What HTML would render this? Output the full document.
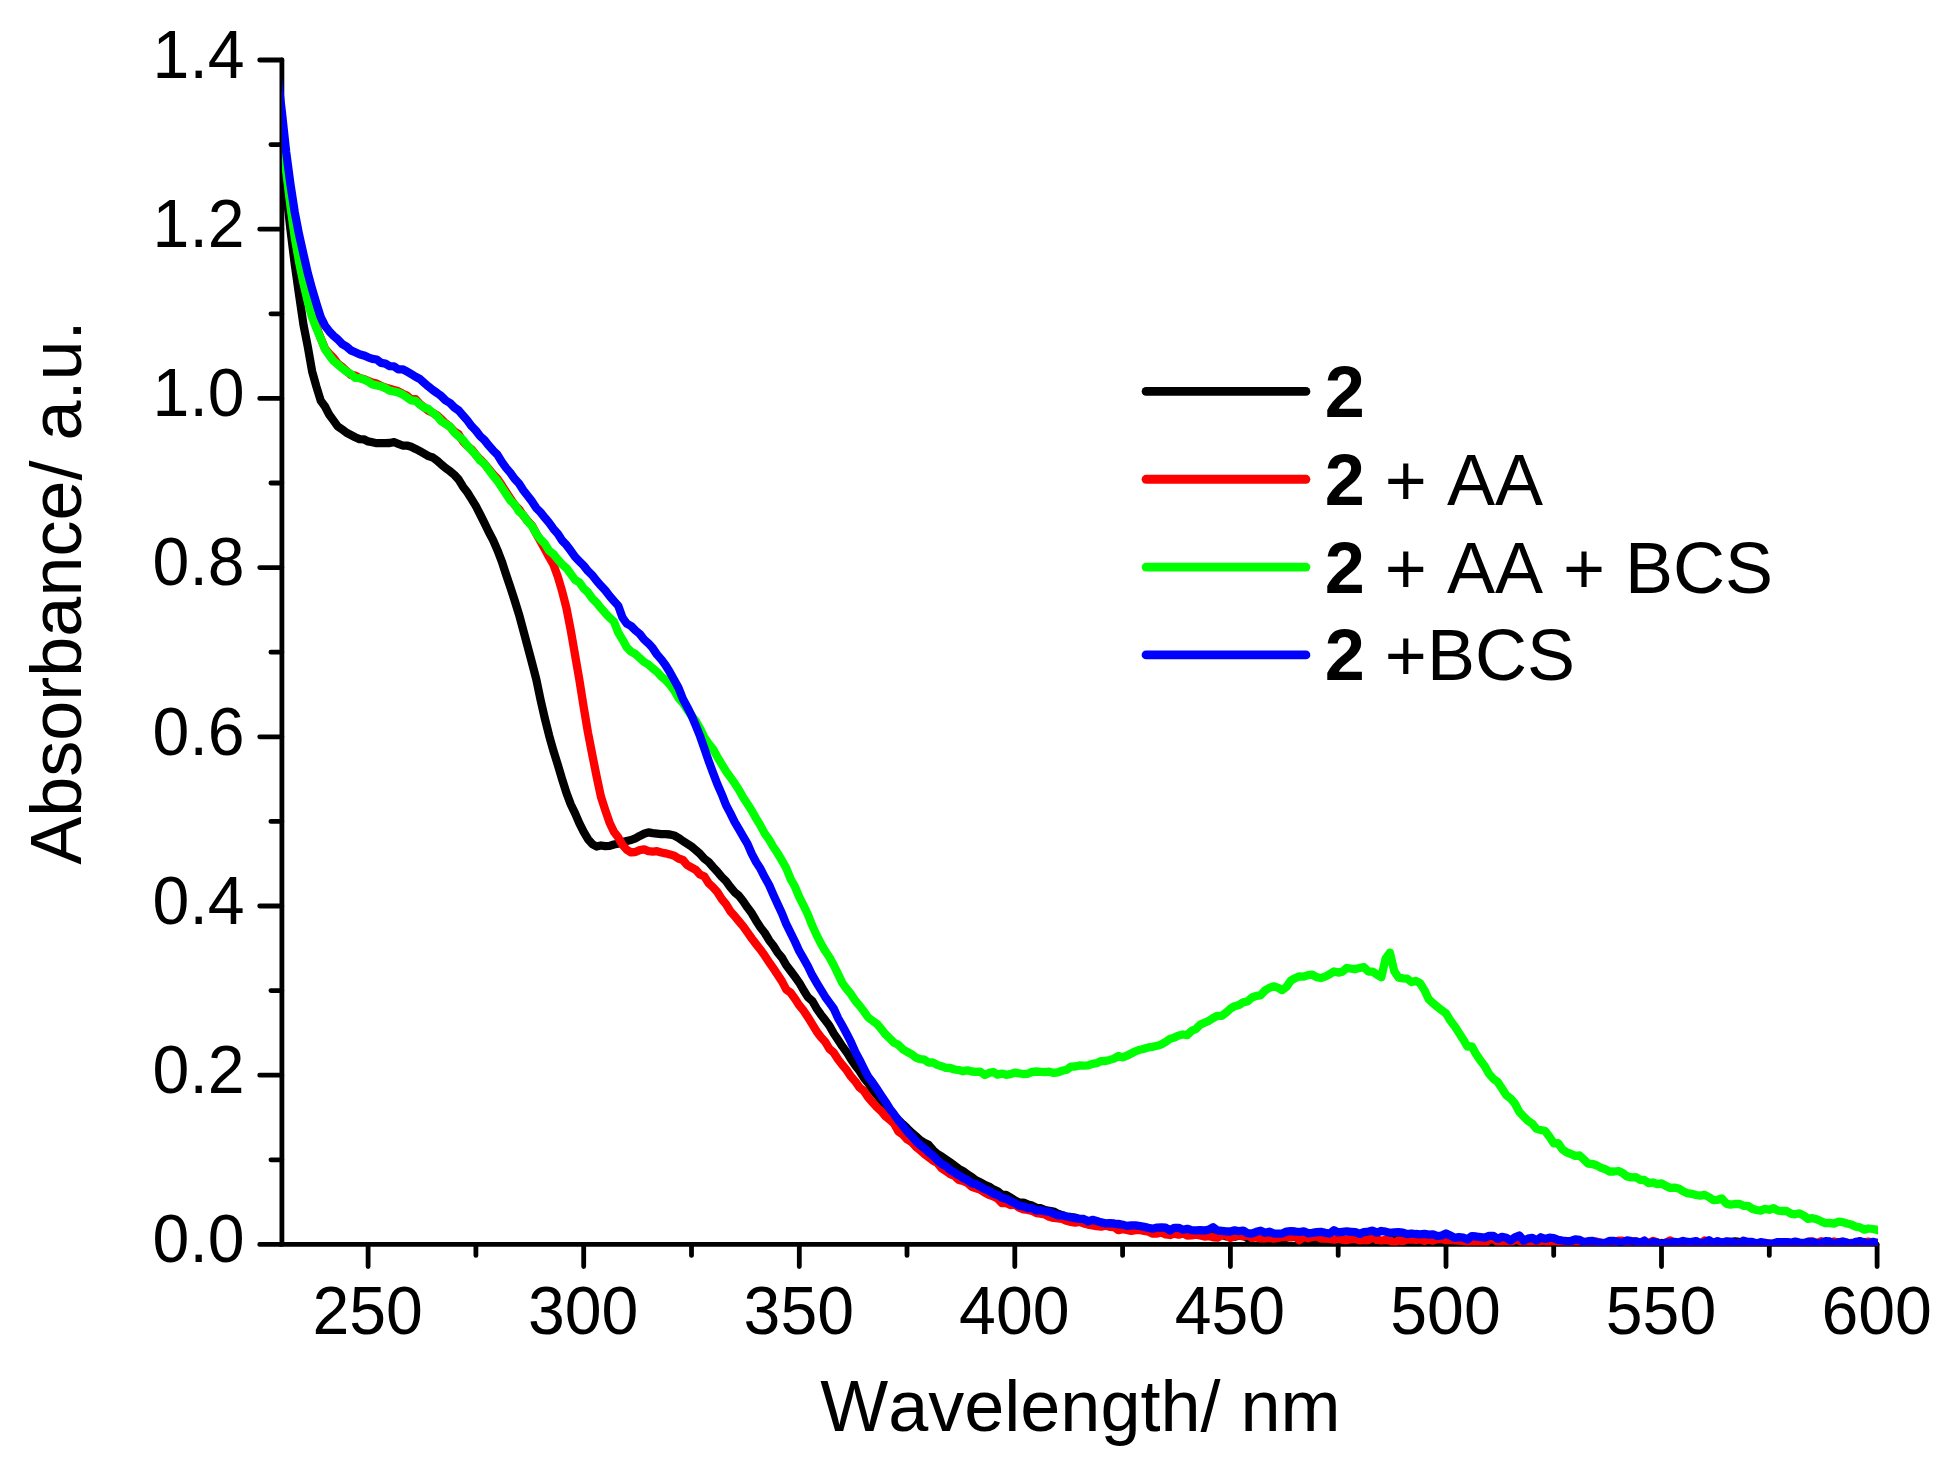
<!DOCTYPE html>
<html lang="en"><head><meta charset="utf-8"><title>UV/Vis absorbance spectra</title>
<style>html,body{margin:0;padding:0;background:#fff}body{width:1947px;height:1464px;overflow:hidden}svg{display:block}text{font-family:"Liberation Sans",Arial,Helvetica,sans-serif;fill:#000;font-kerning:none;font-variant-ligatures:none}.tk{font-size:66.2px}.ti{font-size:72px}.lg{font-size:72px}.b{font-weight:bold}.ax{stroke:#000;stroke-width:4.8;stroke-linecap:round;fill:none}.cv{fill:none;stroke-width:8.3;stroke-linejoin:round;stroke-linecap:butt}.ll{fill:none;stroke-width:8.9;stroke-linecap:round}</style></head><body>
<svg width="1947" height="1464" viewBox="0 0 1947 1464">
<rect width="1947" height="1464" fill="#fff"/>
<defs><clipPath id="plot"><rect x="281.9" y="54.0" width="1596.1" height="1191.4"/></clipPath></defs>
<g class="ax">
<path d="M281.9 60.0L281.9 1244.4L1877.1 1244.4"/>
<path d="M281.9 1244.4H259.7M281.9 1075.2H259.7M281.9 906.0H259.7M281.9 736.8H259.7M281.9 567.6H259.7M281.9 398.4H259.7M281.9 229.2H259.7M281.9 60.0H259.7M281.9 1159.8H270.9M281.9 990.6H270.9M281.9 821.4H270.9M281.9 652.2H270.9M281.9 483.0H270.9M281.9 313.8H270.9M281.9 144.6H270.9M368.1 1244.4V1266.6M583.7 1244.4V1266.6M799.3 1244.4V1266.6M1014.8 1244.4V1266.6M1230.4 1244.4V1266.6M1446.0 1244.4V1266.6M1661.5 1244.4V1266.6M1877.1 1244.4V1266.6M475.9 1244.4V1255.4M691.5 1244.4V1255.4M907.0 1244.4V1255.4M1122.6 1244.4V1255.4M1338.2 1244.4V1255.4M1553.7 1244.4V1255.4M1769.3 1244.4V1255.4"/>
</g>
<g class="tk" text-anchor="end">
<text transform="translate(244.6 1262.1) scale(1 1.035)">0.0</text>
<text transform="translate(244.6 1092.9) scale(1 1.035)">0.2</text>
<text transform="translate(244.6 923.7) scale(1 1.035)">0.4</text>
<text transform="translate(244.6 754.5) scale(1 1.035)">0.6</text>
<text transform="translate(244.6 585.3) scale(1 1.035)">0.8</text>
<text transform="translate(244.6 416.1) scale(1 1.035)">1.0</text>
<text transform="translate(244.6 246.9) scale(1 1.035)">1.2</text>
<text transform="translate(244.6 77.7) scale(1 1.035)">1.4</text>
</g>
<g class="tk" text-anchor="middle">
<text transform="translate(367.6 1334.4) scale(1 1.035)">250</text>
<text transform="translate(583.2 1334.4) scale(1 1.035)">300</text>
<text transform="translate(798.8 1334.4) scale(1 1.035)">350</text>
<text transform="translate(1014.3 1334.4) scale(1 1.035)">400</text>
<text transform="translate(1229.9 1334.4) scale(1 1.035)">450</text>
<text transform="translate(1445.5 1334.4) scale(1 1.035)">500</text>
<text transform="translate(1661.0 1334.4) scale(1 1.035)">550</text>
<text transform="translate(1876.6 1334.4) scale(1 1.035)">600</text>
</g>
<text class="ti" text-anchor="middle" x="1080.4" y="1430.7">Wavelength/ nm</text>
<text class="ti" text-anchor="middle" transform="translate(80.7 592.6) rotate(-90)">Absorbance/ a.u.</text>
<g clip-path="url(#plot)">
<path class="cv" stroke="#000000" d="M277.6 116.0L281.9 151.4L286.2 191.4L290.5 229.8L294.8 264.6L299.1 294.9L303.5 325.0L307.8 346.8L312.1 371.3L316.4 386.6L320.7 400.6L325.0 406.5L329.3 414.8L333.6 420.6L337.9 426.6L342.3 429.4L346.6 432.8L350.9 435.0L355.2 437.2L359.5 439.1L363.8 439.3L368.1 441.4L372.4 442.3L376.7 443.2L381.1 443.1L385.4 443.1L389.7 443.0L394.0 442.2L398.3 443.8L402.6 445.5L406.9 445.6L411.2 446.8L415.6 448.9L419.9 451.2L424.2 453.6L428.5 456.1L432.8 457.5L437.1 460.6L441.4 464.5L445.7 468.1L450.0 471.2L454.4 474.9L458.7 479.6L463.0 486.7L467.3 492.3L471.6 499.1L475.9 506.2L480.2 514.5L484.5 523.1L488.8 532.0L493.2 540.4L497.5 550.3L501.8 561.4L506.1 574.6L510.4 587.3L514.7 600.6L519.0 614.4L523.3 630.3L527.6 646.4L532.0 662.9L536.3 679.4L540.6 700.0L544.9 718.7L549.2 735.8L553.5 751.1L557.8 764.7L562.1 779.2L566.4 792.8L570.8 804.5L575.1 813.4L579.4 823.3L583.7 831.9L588.0 839.2L592.3 844.1L596.6 846.5L600.9 845.5L605.3 846.2L609.6 845.9L613.9 844.5L618.2 843.7L622.5 842.1L626.8 841.0L631.1 840.0L635.4 838.3L639.7 835.9L644.1 833.8L648.4 832.4L652.7 833.2L657.0 833.7L661.3 834.2L665.6 834.2L669.9 834.5L674.2 835.5L678.5 837.8L682.9 841.0L687.2 843.7L691.5 846.5L695.8 850.1L700.1 853.9L704.4 858.7L708.7 862.0L713.0 867.0L717.3 871.6L721.7 876.9L726.0 881.1L730.3 887.0L734.6 892.2L738.9 895.7L743.2 901.2L747.5 907.6L751.8 913.3L756.1 920.7L760.5 927.5L764.8 933.0L769.1 940.2L773.4 945.7L777.7 952.6L782.0 957.7L786.3 965.3L790.6 970.9L795.0 976.8L799.3 982.8L803.6 990.3L807.9 997.1L812.2 1000.8L816.5 1008.3L820.8 1014.4L825.1 1020.1L829.4 1025.7L833.8 1033.5L838.1 1039.8L842.4 1046.4L846.7 1052.2L851.0 1059.2L855.3 1065.5L859.6 1071.0L863.9 1077.8L868.2 1083.1L872.6 1089.9L876.9 1095.0L881.2 1100.4L885.5 1105.8L889.8 1111.0L894.1 1115.5L898.4 1119.9L902.7 1124.1L907.0 1128.1L911.4 1132.4L915.7 1136.1L920.0 1140.1L924.3 1142.8L928.6 1144.8L932.9 1150.0L937.2 1153.9L941.5 1156.3L945.8 1159.3L950.2 1162.4L954.5 1165.6L958.8 1168.9L963.1 1171.2L967.4 1174.4L971.7 1177.0L976.0 1180.4L980.3 1182.3L984.7 1184.9L989.0 1186.6L993.3 1189.4L997.6 1191.3L1001.9 1194.8L1006.2 1194.9L1010.5 1197.6L1014.8 1200.2L1019.1 1202.7L1023.5 1202.7L1027.8 1204.4L1032.1 1205.6L1036.4 1207.8L1040.7 1208.2L1045.0 1210.1L1049.3 1210.8L1053.6 1211.5L1057.9 1213.8L1062.3 1215.2L1066.6 1217.0L1070.9 1217.0L1075.2 1217.6L1079.5 1219.3L1083.8 1220.0L1088.1 1220.8L1092.4 1221.3L1096.7 1222.7L1101.1 1222.8L1105.4 1224.5L1109.7 1224.6L1114.0 1224.9L1118.3 1223.8L1122.6 1226.0L1126.9 1226.4L1131.2 1227.1L1135.5 1227.7L1139.9 1227.1L1144.2 1228.5L1148.5 1227.9L1152.8 1230.2L1157.1 1228.2L1161.4 1228.3L1165.7 1228.8L1170.0 1229.8L1174.3 1230.0L1178.7 1232.8L1183.0 1231.5L1187.3 1231.1L1191.6 1233.4L1195.9 1232.5L1200.2 1232.3L1204.5 1234.3L1208.8 1234.5L1213.2 1234.0L1217.5 1235.8L1221.8 1234.8L1226.1 1236.3L1230.4 1235.6L1234.7 1236.8L1239.0 1235.8L1243.3 1234.9L1247.6 1238.3L1252.0 1236.0L1256.3 1236.6L1260.6 1236.4L1264.9 1237.0L1269.2 1237.5L1273.5 1237.6L1277.8 1238.2L1282.1 1239.3L1286.4 1237.7L1290.8 1236.8L1295.1 1237.0L1299.4 1237.6L1303.7 1236.8L1308.0 1239.3L1312.3 1238.1L1316.6 1238.4L1320.9 1238.9L1325.2 1237.7L1329.6 1238.3L1333.9 1239.9L1338.2 1240.0L1342.5 1239.1L1346.8 1241.4L1351.1 1238.4L1355.4 1239.4L1359.7 1239.6L1364.0 1237.1L1368.4 1241.9L1372.7 1240.4L1377.0 1239.1L1381.3 1242.3L1385.6 1240.9L1389.9 1240.8L1394.2 1239.8L1398.5 1240.6L1402.9 1239.0L1407.2 1241.5L1411.5 1240.4L1415.8 1241.0L1420.1 1242.2L1424.4 1241.3L1428.7 1241.3L1433.0 1241.4L1437.3 1240.4L1441.7 1242.1L1446.0 1242.9L1450.3 1242.2L1454.6 1242.4L1458.9 1240.6L1463.2 1240.7L1467.5 1240.1L1471.8 1243.0L1476.1 1241.5L1480.5 1243.3L1484.8 1241.1L1489.1 1241.5L1493.4 1242.1L1497.7 1243.0L1502.0 1242.2L1506.3 1242.4L1510.6 1242.3L1514.9 1242.5L1519.3 1241.2L1523.6 1242.5L1527.9 1242.3L1532.2 1242.5L1536.5 1243.1L1540.8 1241.9L1545.1 1242.6L1549.4 1242.4L1553.7 1243.2L1558.1 1243.6L1562.4 1241.9L1566.7 1243.5L1571.0 1245.1L1575.3 1241.5L1579.6 1242.2L1583.9 1242.3L1588.2 1243.0L1592.6 1245.1L1596.9 1243.5L1601.2 1242.9L1605.5 1244.3L1609.8 1243.0L1614.1 1244.8L1618.4 1244.0L1622.7 1245.1L1627.0 1243.0L1631.4 1246.9L1635.7 1244.6L1640.0 1244.4L1644.3 1243.7L1648.6 1243.0L1652.9 1242.9L1657.2 1243.7L1661.5 1243.0L1665.8 1244.2L1670.2 1243.0L1674.5 1244.5L1678.8 1244.9L1683.1 1243.2L1687.4 1245.2L1691.7 1243.7L1696.0 1245.2L1700.3 1244.5L1704.6 1245.2L1709.0 1243.0L1713.3 1243.9L1717.6 1245.5L1721.9 1243.4L1726.2 1241.9L1730.5 1242.0L1734.8 1241.4L1739.1 1241.8L1743.4 1243.6L1747.8 1245.3L1752.1 1243.5L1756.4 1244.3L1760.7 1243.9L1765.0 1244.0L1769.3 1243.8L1773.6 1243.8L1777.9 1244.5L1782.3 1242.8L1786.6 1245.1L1790.9 1245.0L1795.2 1243.8L1799.5 1244.8L1803.8 1243.3L1808.1 1243.5L1812.4 1244.2L1816.7 1243.8L1821.1 1243.6L1825.4 1243.4L1829.7 1243.5L1834.0 1245.1L1838.3 1242.1L1842.6 1244.5L1846.9 1243.9L1851.2 1244.9L1855.5 1244.7L1859.9 1241.2L1864.2 1244.8L1868.5 1244.5L1872.8 1244.2L1877.1 1243.7L1881.4 1245.1"/>
<path class="cv" stroke="#ff0000" d="M277.6 87.0L281.9 125.4L286.2 166.3L290.5 205.3L294.8 234.2L299.1 259.4L303.5 281.6L307.8 299.5L312.1 315.0L316.4 326.6L320.7 338.2L325.0 348.6L329.3 353.6L333.6 357.9L337.9 363.7L342.3 367.1L346.6 371.0L350.9 374.9L355.2 375.7L359.5 378.0L363.8 379.0L368.1 380.8L372.4 382.6L376.7 383.6L381.1 386.0L385.4 387.6L389.7 388.8L394.0 390.0L398.3 391.3L402.6 393.7L406.9 395.6L411.2 399.4L415.6 399.2L419.9 404.1L424.2 407.4L428.5 410.7L432.8 412.8L437.1 415.3L441.4 419.3L445.7 423.4L450.0 426.7L454.4 431.5L458.7 434.3L463.0 441.3L467.3 445.9L471.6 449.4L475.9 454.9L480.2 459.5L484.5 463.8L488.8 469.2L493.2 474.5L497.5 478.9L501.8 485.2L506.1 491.9L510.4 498.5L514.7 504.9L519.0 509.2L523.3 515.5L527.6 520.9L532.0 525.5L536.3 533.7L540.6 541.5L544.9 549.2L549.2 557.3L553.5 564.8L557.8 576.6L562.1 591.2L566.4 607.9L570.8 630.5L575.1 655.2L579.4 680.1L583.7 707.2L588.0 732.8L592.3 754.9L596.6 776.4L600.9 796.6L605.3 810.2L609.6 822.7L613.9 831.8L618.2 837.4L622.5 845.0L626.8 849.7L631.1 852.4L635.4 852.0L639.7 850.1L644.1 849.4L648.4 851.2L652.7 851.6L657.0 851.2L661.3 852.5L665.6 853.3L669.9 854.4L674.2 855.7L678.5 858.5L682.9 860.0L687.2 865.2L691.5 867.5L695.8 869.9L700.1 874.6L704.4 876.6L708.7 883.2L713.0 887.2L717.3 892.0L721.7 899.0L726.0 904.1L730.3 911.2L734.6 916.1L738.9 921.2L743.2 926.4L747.5 932.4L751.8 938.5L756.1 944.1L760.5 949.7L764.8 955.7L769.1 962.2L773.4 968.4L777.7 974.9L782.0 981.4L786.3 989.6L790.6 992.7L795.0 998.7L799.3 1005.4L803.6 1010.7L807.9 1017.1L812.2 1024.1L816.5 1031.2L820.8 1037.0L825.1 1041.7L829.4 1048.8L833.8 1052.7L838.1 1059.5L842.4 1065.0L846.7 1070.1L851.0 1076.6L855.3 1081.4L859.6 1087.5L863.9 1090.9L868.2 1097.5L872.6 1102.4L876.9 1107.2L881.2 1111.1L885.5 1116.3L889.8 1119.8L894.1 1123.8L898.4 1131.6L902.7 1134.4L907.0 1139.2L911.4 1141.9L915.7 1146.5L920.0 1150.2L924.3 1153.9L928.6 1157.2L932.9 1160.6L937.2 1162.9L941.5 1168.1L945.8 1171.0L950.2 1174.2L954.5 1176.0L958.8 1179.9L963.1 1181.0L967.4 1182.9L971.7 1186.8L976.0 1188.2L980.3 1189.7L984.7 1192.5L989.0 1194.8L993.3 1196.4L997.6 1198.7L1001.9 1203.2L1006.2 1203.0L1010.5 1205.1L1014.8 1204.4L1019.1 1207.6L1023.5 1209.4L1027.8 1209.9L1032.1 1210.9L1036.4 1213.1L1040.7 1213.7L1045.0 1214.5L1049.3 1216.7L1053.6 1217.9L1057.9 1218.3L1062.3 1219.0L1066.6 1220.8L1070.9 1221.9L1075.2 1222.6L1079.5 1221.8L1083.8 1223.4L1088.1 1224.6L1092.4 1225.4L1096.7 1226.2L1101.1 1226.7L1105.4 1225.8L1109.7 1226.8L1114.0 1227.0L1118.3 1230.1L1122.6 1229.2L1126.9 1230.0L1131.2 1230.9L1135.5 1230.2L1139.9 1229.9L1144.2 1231.0L1148.5 1231.7L1152.8 1233.6L1157.1 1233.6L1161.4 1232.4L1165.7 1234.4L1170.0 1235.0L1174.3 1233.6L1178.7 1234.7L1183.0 1233.4L1187.3 1235.7L1191.6 1235.3L1195.9 1234.6L1200.2 1235.5L1204.5 1236.6L1208.8 1236.1L1213.2 1237.3L1217.5 1237.7L1221.8 1234.9L1226.1 1235.4L1230.4 1238.0L1234.7 1236.2L1239.0 1235.4L1243.3 1236.5L1247.6 1235.3L1252.0 1238.0L1256.3 1237.4L1260.6 1238.4L1264.9 1238.3L1269.2 1237.9L1273.5 1238.6L1277.8 1237.9L1282.1 1237.1L1286.4 1236.8L1290.8 1237.5L1295.1 1235.4L1299.4 1240.2L1303.7 1236.5L1308.0 1238.4L1312.3 1237.1L1316.6 1236.4L1320.9 1238.7L1325.2 1238.5L1329.6 1238.8L1333.9 1239.7L1338.2 1238.5L1342.5 1239.8L1346.8 1240.0L1351.1 1239.1L1355.4 1239.2L1359.7 1240.3L1364.0 1239.8L1368.4 1240.0L1372.7 1237.0L1377.0 1240.0L1381.3 1240.5L1385.6 1239.9L1389.9 1240.6L1394.2 1242.6L1398.5 1240.4L1402.9 1241.2L1407.2 1239.4L1411.5 1239.5L1415.8 1240.0L1420.1 1239.4L1424.4 1240.8L1428.7 1239.7L1433.0 1240.7L1437.3 1239.2L1441.7 1239.0L1446.0 1240.2L1450.3 1239.8L1454.6 1240.4L1458.9 1240.5L1463.2 1240.8L1467.5 1242.6L1471.8 1243.1L1476.1 1242.3L1480.5 1241.0L1484.8 1243.4L1489.1 1239.7L1493.4 1239.1L1497.7 1242.0L1502.0 1241.7L1506.3 1241.6L1510.6 1241.9L1514.9 1239.9L1519.3 1240.5L1523.6 1243.5L1527.9 1243.3L1532.2 1241.2L1536.5 1244.5L1540.8 1240.9L1545.1 1241.5L1549.4 1242.7L1553.7 1240.9L1558.1 1241.8L1562.4 1242.2L1566.7 1242.0L1571.0 1243.6L1575.3 1243.3L1579.6 1241.3L1583.9 1241.8L1588.2 1242.9L1592.6 1242.5L1596.9 1241.6L1601.2 1243.1L1605.5 1243.6L1609.8 1241.8L1614.1 1243.6L1618.4 1240.6L1622.7 1240.7L1627.0 1243.3L1631.4 1241.6L1635.7 1241.4L1640.0 1242.4L1644.3 1241.9L1648.6 1243.1L1652.9 1240.9L1657.2 1242.3L1661.5 1246.6L1665.8 1242.9L1670.2 1240.4L1674.5 1243.5L1678.8 1243.4L1683.1 1244.5L1687.4 1243.0L1691.7 1242.0L1696.0 1244.5L1700.3 1243.7L1704.6 1240.6L1709.0 1243.7L1713.3 1242.5L1717.6 1244.2L1721.9 1242.4L1726.2 1243.8L1730.5 1243.1L1734.8 1243.6L1739.1 1242.9L1743.4 1242.4L1747.8 1243.0L1752.1 1243.7L1756.4 1243.4L1760.7 1244.9L1765.0 1243.5L1769.3 1243.7L1773.6 1245.5L1777.9 1243.0L1782.3 1243.6L1786.6 1242.2L1790.9 1243.0L1795.2 1245.0L1799.5 1243.4L1803.8 1244.8L1808.1 1241.7L1812.4 1241.3L1816.7 1243.4L1821.1 1241.3L1825.4 1246.3L1829.7 1244.5L1834.0 1241.5L1838.3 1242.8L1842.6 1242.3L1846.9 1243.5L1851.2 1242.9L1855.5 1244.2L1859.9 1244.8L1864.2 1242.7L1868.5 1241.6L1872.8 1243.7L1877.1 1242.8L1881.4 1244.4"/>
<path class="cv" stroke="#00ff00" d="M277.6 92.4L281.9 129.7L286.2 171.4L290.5 206.1L294.8 237.8L299.1 262.1L303.5 283.4L307.8 301.9L312.1 317.3L316.4 328.4L320.7 338.3L325.0 349.2L329.3 355.4L333.6 361.1L337.9 364.5L342.3 368.3L346.6 371.6L350.9 374.0L355.2 377.9L359.5 378.1L363.8 379.5L368.1 381.6L372.4 384.4L376.7 385.4L381.1 386.3L385.4 388.1L389.7 390.6L394.0 391.5L398.3 392.6L402.6 394.6L406.9 397.3L411.2 400.4L415.6 400.9L419.9 404.6L424.2 407.5L428.5 409.0L432.8 412.8L437.1 416.1L441.4 421.2L445.7 424.0L450.0 426.8L454.4 432.6L458.7 436.4L463.0 440.0L467.3 445.6L471.6 450.3L475.9 455.0L480.2 460.6L484.5 463.8L488.8 470.0L493.2 475.8L497.5 481.0L501.8 487.5L506.1 494.0L510.4 500.6L514.7 504.4L519.0 511.5L523.3 515.0L527.6 521.5L532.0 526.1L536.3 533.8L540.6 539.5L544.9 543.8L549.2 550.8L553.5 554.1L557.8 559.5L562.1 564.3L566.4 568.1L570.8 574.0L575.1 579.9L579.4 582.3L583.7 588.5L588.0 592.4L592.3 598.5L596.6 602.7L600.9 608.1L605.3 613.1L609.6 617.7L613.9 621.5L618.2 632.5L622.5 639.6L626.8 647.4L631.1 651.7L635.4 654.0L639.7 658.0L644.1 662.0L648.4 664.5L652.7 668.4L657.0 671.7L661.3 676.5L665.6 679.9L669.9 684.8L674.2 690.5L678.5 698.0L682.9 703.0L687.2 709.3L691.5 715.9L695.8 721.0L700.1 728.5L704.4 737.5L708.7 743.7L713.0 749.0L717.3 756.8L721.7 764.1L726.0 771.2L730.3 777.1L734.6 783.2L738.9 789.7L743.2 797.5L747.5 804.1L751.8 810.8L756.1 818.4L760.5 825.6L764.8 833.6L769.1 839.7L773.4 847.0L777.7 853.3L782.0 860.7L786.3 868.3L790.6 878.9L795.0 886.8L799.3 897.1L803.6 905.7L807.9 914.5L812.2 925.4L816.5 934.9L820.8 943.4L825.1 950.8L829.4 957.2L833.8 965.3L838.1 974.1L842.4 983.1L846.7 989.0L851.0 994.2L855.3 1000.8L859.6 1005.8L863.9 1011.3L868.2 1017.5L872.6 1020.8L876.9 1023.8L881.2 1028.9L885.5 1034.3L889.8 1038.5L894.1 1042.8L898.4 1044.8L902.7 1049.2L907.0 1051.8L911.4 1054.1L915.7 1057.5L920.0 1059.1L924.3 1059.7L928.6 1062.7L932.9 1062.5L937.2 1064.9L941.5 1066.2L945.8 1067.8L950.2 1068.0L954.5 1069.5L958.8 1070.1L963.1 1071.3L967.4 1070.3L971.7 1071.5L976.0 1071.9L980.3 1071.7L984.7 1075.0L989.0 1072.9L993.3 1072.0L997.6 1074.7L1001.9 1073.6L1006.2 1074.8L1010.5 1074.1L1014.8 1072.6L1019.1 1073.4L1023.5 1074.0L1027.8 1073.8L1032.1 1071.9L1036.4 1071.5L1040.7 1071.8L1045.0 1072.2L1049.3 1071.7L1053.6 1072.9L1057.9 1072.3L1062.3 1070.8L1066.6 1069.8L1070.9 1066.7L1075.2 1066.5L1079.5 1065.5L1083.8 1065.7L1088.1 1065.4L1092.4 1063.8L1096.7 1063.2L1101.1 1061.1L1105.4 1061.0L1109.7 1059.9L1114.0 1058.6L1118.3 1056.0L1122.6 1057.4L1126.9 1055.7L1131.2 1053.5L1135.5 1051.3L1139.9 1049.7L1144.2 1048.8L1148.5 1047.4L1152.8 1046.8L1157.1 1045.8L1161.4 1044.3L1165.7 1041.9L1170.0 1038.9L1174.3 1037.6L1178.7 1035.5L1183.0 1034.5L1187.3 1035.2L1191.6 1030.8L1195.9 1029.0L1200.2 1024.6L1204.5 1022.7L1208.8 1020.9L1213.2 1018.0L1217.5 1015.8L1221.8 1015.8L1226.1 1012.6L1230.4 1008.7L1234.7 1006.2L1239.0 1005.1L1243.3 1002.3L1247.6 1001.4L1252.0 997.5L1256.3 995.9L1260.6 995.3L1264.9 990.6L1269.2 987.9L1273.5 986.3L1277.8 987.6L1282.1 990.1L1286.4 987.0L1290.8 980.7L1295.1 978.2L1299.4 976.3L1303.7 976.6L1308.0 975.1L1312.3 974.6L1316.6 977.1L1320.9 978.0L1325.2 976.6L1329.6 974.3L1333.9 971.5L1338.2 972.6L1342.5 971.6L1346.8 968.0L1351.1 968.6L1355.4 969.0L1359.7 967.9L1364.0 967.2L1368.4 971.5L1372.7 971.6L1377.0 974.7L1381.3 977.3L1385.6 958.6L1389.9 952.6L1394.2 970.9L1398.5 977.6L1402.9 978.3L1407.2 978.6L1411.5 982.1L1415.8 980.9L1420.1 983.2L1424.4 990.1L1428.7 999.2L1433.0 1003.2L1437.3 1006.7L1441.7 1010.2L1446.0 1013.3L1450.3 1020.5L1454.6 1026.1L1458.9 1032.7L1463.2 1039.4L1467.5 1046.6L1471.8 1046.3L1476.1 1054.2L1480.5 1060.6L1484.8 1066.2L1489.1 1073.9L1493.4 1078.9L1497.7 1081.9L1502.0 1088.6L1506.3 1095.2L1510.6 1098.6L1514.9 1103.5L1519.3 1111.9L1523.6 1116.5L1527.9 1120.7L1532.2 1123.6L1536.5 1128.8L1540.8 1130.0L1545.1 1131.0L1549.4 1136.6L1553.7 1143.3L1558.1 1143.2L1562.4 1149.3L1566.7 1152.4L1571.0 1154.0L1575.3 1155.9L1579.6 1155.5L1583.9 1159.5L1588.2 1163.7L1592.6 1164.0L1596.9 1165.5L1601.2 1167.9L1605.5 1169.3L1609.8 1171.7L1614.1 1171.5L1618.4 1171.0L1622.7 1173.1L1627.0 1176.4L1631.4 1177.4L1635.7 1177.1L1640.0 1179.8L1644.3 1180.0L1648.6 1183.2L1652.9 1182.5L1657.2 1184.1L1661.5 1183.4L1665.8 1185.9L1670.2 1187.9L1674.5 1187.7L1678.8 1188.5L1683.1 1191.2L1687.4 1193.2L1691.7 1193.8L1696.0 1195.0L1700.3 1195.6L1704.6 1194.9L1709.0 1197.1L1713.3 1200.2L1717.6 1199.8L1721.9 1198.5L1726.2 1203.6L1730.5 1204.6L1734.8 1204.0L1739.1 1203.8L1743.4 1205.8L1747.8 1205.8L1752.1 1208.7L1756.4 1210.0L1760.7 1210.7L1765.0 1208.9L1769.3 1209.8L1773.6 1208.2L1777.9 1210.6L1782.3 1211.0L1786.6 1211.0L1790.9 1213.6L1795.2 1214.3L1799.5 1213.3L1803.8 1215.6L1808.1 1218.9L1812.4 1218.2L1816.7 1219.3L1821.1 1221.3L1825.4 1223.1L1829.7 1222.9L1834.0 1223.6L1838.3 1221.7L1842.6 1222.1L1846.9 1223.5L1851.2 1224.5L1855.5 1226.6L1859.9 1227.3L1864.2 1229.7L1868.5 1228.5L1872.8 1229.0L1877.1 1229.9L1881.4 1231.0"/>
<path class="cv" stroke="#0000ff" d="M277.6 76.1L281.9 112.2L286.2 152.2L290.5 184.6L294.8 212.5L299.1 234.7L303.5 254.3L307.8 273.1L312.1 289.0L316.4 303.5L320.7 317.0L325.0 325.7L329.3 331.3L333.6 335.9L337.9 339.5L342.3 344.2L346.6 346.6L350.9 350.4L355.2 352.3L359.5 354.2L363.8 355.4L368.1 357.3L372.4 358.8L376.7 359.5L381.1 362.9L385.4 363.6L389.7 366.2L394.0 366.3L398.3 369.3L402.6 369.3L406.9 371.4L411.2 374.1L415.6 376.8L419.9 379.0L424.2 382.9L428.5 386.6L432.8 390.0L437.1 393.0L441.4 396.2L445.7 400.5L450.0 403.0L454.4 407.5L458.7 410.5L463.0 415.4L467.3 420.4L471.6 426.2L475.9 430.6L480.2 436.2L484.5 440.1L488.8 445.6L493.2 450.6L497.5 454.8L501.8 461.9L506.1 467.9L510.4 472.9L514.7 478.9L519.0 483.5L523.3 490.2L527.6 495.8L532.0 501.4L536.3 508.1L540.6 512.4L544.9 517.8L549.2 522.9L553.5 528.9L557.8 533.7L562.1 540.5L566.4 544.9L570.8 550.8L575.1 556.9L579.4 561.3L583.7 565.6L588.0 571.1L592.3 575.2L596.6 580.8L600.9 585.7L605.3 590.4L609.6 596.0L613.9 601.0L618.2 605.7L622.5 617.6L626.8 623.6L631.1 626.0L635.4 630.4L639.7 633.9L644.1 639.5L648.4 643.3L652.7 648.1L657.0 654.6L661.3 659.4L665.6 665.3L669.9 672.2L674.2 679.9L678.5 687.8L682.9 699.1L687.2 707.0L691.5 715.4L695.8 725.7L700.1 736.3L704.4 748.7L708.7 761.1L713.0 772.7L717.3 784.0L721.7 794.1L726.0 805.0L730.3 813.1L734.6 821.9L738.9 829.2L743.2 836.6L747.5 843.8L751.8 853.9L756.1 862.0L760.5 868.8L764.8 877.3L769.1 885.0L773.4 894.9L777.7 904.3L782.0 913.5L786.3 924.2L790.6 932.8L795.0 941.8L799.3 951.2L803.6 958.6L807.9 966.3L812.2 975.2L816.5 982.6L820.8 989.7L825.1 996.7L829.4 1002.6L833.8 1008.7L838.1 1018.2L842.4 1025.8L846.7 1033.8L851.0 1042.2L855.3 1051.9L859.6 1059.9L863.9 1068.5L868.2 1076.8L872.6 1082.6L876.9 1088.9L881.2 1095.5L885.5 1101.8L889.8 1108.7L894.1 1114.3L898.4 1120.4L902.7 1125.7L907.0 1131.1L911.4 1135.9L915.7 1140.7L920.0 1145.0L924.3 1148.3L928.6 1152.2L932.9 1155.6L937.2 1160.2L941.5 1163.9L945.8 1166.0L950.2 1170.0L954.5 1172.6L958.8 1175.3L963.1 1178.0L967.4 1180.1L971.7 1183.2L976.0 1184.1L980.3 1186.7L984.7 1189.2L989.0 1190.8L993.3 1193.7L997.6 1194.9L1001.9 1197.8L1006.2 1198.9L1010.5 1201.2L1014.8 1203.1L1019.1 1205.6L1023.5 1206.4L1027.8 1208.0L1032.1 1208.2L1036.4 1210.5L1040.7 1210.2L1045.0 1211.3L1049.3 1211.7L1053.6 1213.7L1057.9 1215.3L1062.3 1215.3L1066.6 1216.5L1070.9 1217.3L1075.2 1218.2L1079.5 1218.8L1083.8 1219.0L1088.1 1221.5L1092.4 1219.8L1096.7 1221.0L1101.1 1222.4L1105.4 1223.4L1109.7 1223.1L1114.0 1223.5L1118.3 1224.3L1122.6 1224.6L1126.9 1225.9L1131.2 1225.3L1135.5 1225.3L1139.9 1226.0L1144.2 1226.8L1148.5 1228.0L1152.8 1228.7L1157.1 1227.6L1161.4 1227.3L1165.7 1227.7L1170.0 1230.5L1174.3 1227.8L1178.7 1227.8L1183.0 1229.7L1187.3 1228.8L1191.6 1230.1L1195.9 1230.3L1200.2 1230.1L1204.5 1230.5L1208.8 1229.6L1213.2 1227.3L1217.5 1230.5L1221.8 1230.8L1226.1 1231.4L1230.4 1231.5L1234.7 1230.3L1239.0 1231.2L1243.3 1230.6L1247.6 1233.2L1252.0 1233.5L1256.3 1231.8L1260.6 1230.7L1264.9 1232.8L1269.2 1231.7L1273.5 1233.4L1277.8 1233.7L1282.1 1233.5L1286.4 1231.7L1290.8 1231.1L1295.1 1231.5L1299.4 1232.0L1303.7 1231.3L1308.0 1233.3L1312.3 1232.8L1316.6 1232.1L1320.9 1231.8L1325.2 1232.8L1329.6 1233.5L1333.9 1230.3L1338.2 1232.4L1342.5 1231.9L1346.8 1231.4L1351.1 1231.8L1355.4 1232.2L1359.7 1233.9L1364.0 1232.0L1368.4 1231.5L1372.7 1230.7L1377.0 1232.6L1381.3 1231.0L1385.6 1231.7L1389.9 1232.8L1394.2 1232.4L1398.5 1232.2L1402.9 1232.7L1407.2 1234.2L1411.5 1233.5L1415.8 1234.0L1420.1 1234.4L1424.4 1233.9L1428.7 1234.7L1433.0 1234.3L1437.3 1236.0L1441.7 1235.5L1446.0 1233.5L1450.3 1235.6L1454.6 1237.8L1458.9 1237.2L1463.2 1237.7L1467.5 1239.4L1471.8 1236.2L1476.1 1236.5L1480.5 1237.1L1484.8 1237.6L1489.1 1235.9L1493.4 1235.9L1497.7 1238.9L1502.0 1236.8L1506.3 1237.7L1510.6 1240.4L1514.9 1237.3L1519.3 1235.5L1523.6 1240.6L1527.9 1238.7L1532.2 1237.9L1536.5 1240.4L1540.8 1237.3L1545.1 1238.9L1549.4 1237.7L1553.7 1238.1L1558.1 1239.8L1562.4 1240.5L1566.7 1241.1L1571.0 1241.0L1575.3 1239.4L1579.6 1239.9L1583.9 1242.3L1588.2 1241.2L1592.6 1240.9L1596.9 1242.5L1601.2 1242.8L1605.5 1242.7L1609.8 1240.8L1614.1 1241.0L1618.4 1242.3L1622.7 1242.8L1627.0 1240.3L1631.4 1241.1L1635.7 1241.4L1640.0 1242.8L1644.3 1240.6L1648.6 1244.6L1652.9 1241.9L1657.2 1242.5L1661.5 1244.2L1665.8 1242.6L1670.2 1242.7L1674.5 1241.8L1678.8 1242.5L1683.1 1240.9L1687.4 1242.0L1691.7 1242.1L1696.0 1241.1L1700.3 1243.2L1704.6 1242.6L1709.0 1240.2L1713.3 1243.0L1717.6 1241.2L1721.9 1242.8L1726.2 1241.4L1730.5 1241.9L1734.8 1242.7L1739.1 1244.3L1743.4 1240.7L1747.8 1242.0L1752.1 1242.0L1756.4 1243.5L1760.7 1242.2L1765.0 1242.9L1769.3 1243.8L1773.6 1243.3L1777.9 1242.1L1782.3 1242.1L1786.6 1242.2L1790.9 1242.7L1795.2 1241.6L1799.5 1242.5L1803.8 1243.1L1808.1 1242.0L1812.4 1242.0L1816.7 1242.8L1821.1 1243.3L1825.4 1241.1L1829.7 1241.5L1834.0 1243.9L1838.3 1242.5L1842.6 1241.4L1846.9 1242.6L1851.2 1244.2L1855.5 1241.9L1859.9 1241.5L1864.2 1242.2L1868.5 1244.2L1872.8 1241.8L1877.1 1243.1L1881.4 1243.6"/>
</g>
<path class="ll" stroke="#000000" d="M1146.1 391.4H1305.9"/>
<text class="lg" x="1324.8" y="416.9" xml:space="preserve"><tspan class="b">2</tspan></text>
<path class="ll" stroke="#ff0000" d="M1146.1 479.3H1305.9"/>
<text class="lg" x="1324.8" y="504.8" xml:space="preserve"><tspan class="b">2</tspan> + AA</text>
<path class="ll" stroke="#00ff00" d="M1146.1 567.1H1305.9"/>
<text class="lg" x="1324.8" y="592.6" xml:space="preserve"><tspan class="b">2</tspan> + AA + BCS</text>
<path class="ll" stroke="#0000ff" d="M1146.1 654.9H1305.9"/>
<text class="lg" x="1324.8" y="680.4" xml:space="preserve"><tspan class="b">2</tspan> +BCS</text>
</svg></body></html>
